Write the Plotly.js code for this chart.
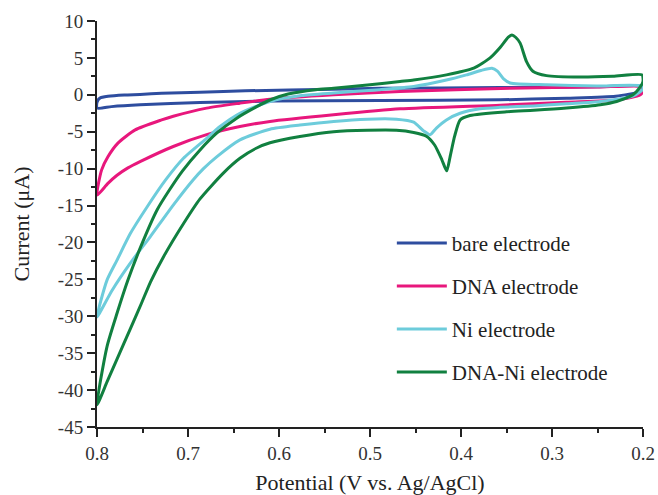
<!DOCTYPE html>
<html>
<head>
<meta charset="utf-8">
<script src="https://cdn.plot.ly/plotly-3.0.1.min.js"></script>
<style>html,body{margin:0;padding:0;background:#fff;}#chart{width:658px;height:495px;}</style>
</head>
<body>
<div id="chart"></div>
<script>
// Series names
const seriesNames = ["bare electrode", "DNA electrode", "Ni electrode", "DNA-Ni electrode"];

// bare electrode (closed CV loop)
const bareX = [0.800,0.797,0.788,0.770,0.7527,0.729,0.687,0.637,0.540,0.489,0.357,0.250,0.203,0.200,0.203,0.230,0.284,0.357,0.489,0.6099,0.687,0.7527,0.784,0.800,0.800];
const bareY = [-1.0,-0.45,-0.2,-0.02,0.05,0.2,0.35,0.54,0.77,0.88,0.98,1.1,1.2,0.8,0.45,-0.2,-0.45,-0.68,-0.77,-0.85,-1.05,-1.36,-1.6,-1.8,-1.0];

// DNA electrode
const dnaX = [0.800,0.795,0.788,0.777,0.758,0.729,0.7162,0.6795,0.6429,0.6099,0.540,0.467,0.346,0.250,0.201,0.200,0.203,0.229,0.284,0.357,0.467,0.540,0.6099,0.6429,0.6795,0.7162,0.7527,0.766,0.778,0.788,0.800];
const dnaY = [-13.6,-10.2,-8.4,-6.55,-4.75,-3.4,-2.9,-1.8,-1.13,-0.6,0.0,0.45,0.9,1.05,1.1,0.6,0.0,-0.7,-1.0,-1.4,-1.9,-2.7,-3.6,-4.3,-5.4,-7.0,-9.05,-9.9,-10.9,-12.0,-13.6];

// Ni electrode
const niX = [0.800,0.789,0.778,0.7634,0.745,0.725,0.705,0.6795,0.6648,0.6429,0.6099,0.575,0.540,0.489,0.452,0.416,0.394,0.378,0.366,0.360,0.3535,0.346,0.306,0.251,0.201,0.200,0.2105,0.247,0.284,0.320,0.357,0.379,0.401,0.416,0.427,0.434,0.441,0.452,0.471,0.503,0.540,0.577,0.6099,0.6429,0.6685,0.683,0.6942,0.716,0.7414,0.7634,0.7835,0.800];
const niY = [-30.1,-25.1,-22.4,-18.8,-15.2,-11.6,-8.6,-5.9,-4.3,-2.5,-0.9,-0.1,0.25,0.7,1.13,2.0,2.7,3.3,3.6,3.2,2.2,1.6,1.36,1.2,1.2,0.8,-0.15,-0.9,-1.2,-1.5,-1.7,-1.9,-2.5,-3.4,-4.5,-5.4,-4.9,-3.7,-3.3,-3.3,-3.6,-4.1,-4.66,-6.1,-8.4,-10.0,-11.5,-14.9,-19.2,-22.8,-26.5,-30.1];

// DNA-Ni electrode
const dnaNiX = [0.800,0.789,0.778,0.766,0.752,0.734,0.721,0.706,0.687,0.6685,0.6465,0.6245,0.610,0.590,0.560,0.540,0.500,0.467,0.452,0.416,0.386,0.368,0.357,0.348,0.344,0.340,0.335,0.328,0.321,0.306,0.269,0.233,0.201,0.200,0.204,0.211,0.229,0.247,0.284,0.320,0.350,0.390,0.401,0.407,0.412,0.4157,0.421,0.429,0.438,0.452,0.471,0.503,0.540,0.577,0.6099,0.6245,0.6429,0.6612,0.6868,0.7047,0.7267,0.741,0.751,0.7634,0.778,0.789,0.800];
const dnaNiY = [-42.0,-34.1,-29.6,-25.1,-20.6,-15.6,-13.0,-10.3,-7.5,-5.2,-3.16,-1.6,-0.7,0.1,0.7,0.9,1.35,1.8,2.0,2.7,3.6,5.0,6.4,7.8,8.1,7.8,7.0,4.5,3.2,2.6,2.4,2.5,2.7,1.8,0.9,0.0,-0.9,-1.35,-1.8,-2.1,-2.3,-2.8,-3.4,-5.6,-8.4,-10.3,-8.8,-6.8,-5.6,-5.1,-4.8,-4.8,-5.0,-5.65,-6.5,-7.2,-8.6,-10.6,-14.1,-17.4,-21.9,-25.3,-28.2,-31.7,-35.8,-38.9,-42.0];

// Tick labels
const xTickVals = [0.8,0.7,0.6,0.5,0.4,0.3,0.2];
const xTickText = ["0.8","0.7","0.6","0.5","0.4","0.3","0.2"];
const yTickVals = [10,5,0,-5,-10,-15,-20,-25,-30,-35,-40,-45];
const yTickText = ["10","5","0","-5","-10","-15","-20","-25","-30","-35","-40","-45"];

const colors = ["#2E4D9F", "#E8177C", "#6DCCDB", "#118040"];
const xs = [bareX, dnaX, niX, dnaNiX];
const ys = [bareY, dnaY, niY, dnaNiY];

const FONT = "Liberation Serif";

const traces = seriesNames.map((name, i) => ({
  type: "scatter",
  mode: "lines",
  name: name,
  x: xs[i],
  y: ys[i],
  legendgroup: "g" + i,
  line: {color: colors[i], width: 3, shape: "spline", smoothing: 0.6}
}));

const layout = {
  width: 658,
  height: 495,
  margin: {l: 97, r: 15, t: 21, b: 68},
  paper_bgcolor: "#fff",
  plot_bgcolor: "#fff",
  font: {family: FONT, color: "#222", size: 18},
  showlegend: true,
  legend: {
    x: 0.54, y: 0.503, xanchor: "left", yanchor: "top",
    bgcolor: "rgba(0,0,0,0)",
    font: {family: FONT, size: 21, color: "#222"},
    traceorder: "grouped",
    tracegroupgap: 12.7,
    itemwidth: 50
  },
  xaxis: {
    range: [0.8, 0.2],
    tickmode: "array", tickvals: xTickVals, ticktext: xTickText,
    ticks: "outside", ticklen: 8, tickwidth: 2, tickcolor: "#222",
    showline: true, linecolor: "#222", linewidth: 2,
    showgrid: false, zeroline: false,
    tickfont: {family: FONT, size: 19, color: "#333"},
    minor: {tickmode: "linear", tick0: 0.2, dtick: 0.05, ticks: "outside", ticklen: 4, tickwidth: 2, tickcolor: "#222", showgrid: false},
    title: {text: "Potential (V vs. Ag/AgCl)", font: {family: FONT, size: 22, color: "#222"}, standoff: 14}
  },
  yaxis: {
    range: [-45, 10],
    tickmode: "array", tickvals: yTickVals, ticktext: yTickText,
    ticks: "outside", ticklen: 8, tickwidth: 2, tickcolor: "#222",
    showline: true, linecolor: "#222", linewidth: 2,
    showgrid: false, zeroline: false,
    tickfont: {family: FONT, size: 19, color: "#333"},
    minor: {tickmode: "linear", tick0: 0, dtick: 2.5, ticks: "outside", ticklen: 4, tickwidth: 2, tickcolor: "#222", showgrid: false},
    title: {text: "Current (μA)", font: {family: FONT, size: 22, color: "#222"}, standoff: 22}
  }
};

Plotly.newPlot("chart", traces, layout, {displayModeBar: false, staticPlot: true});
</script>
</body>
</html>
